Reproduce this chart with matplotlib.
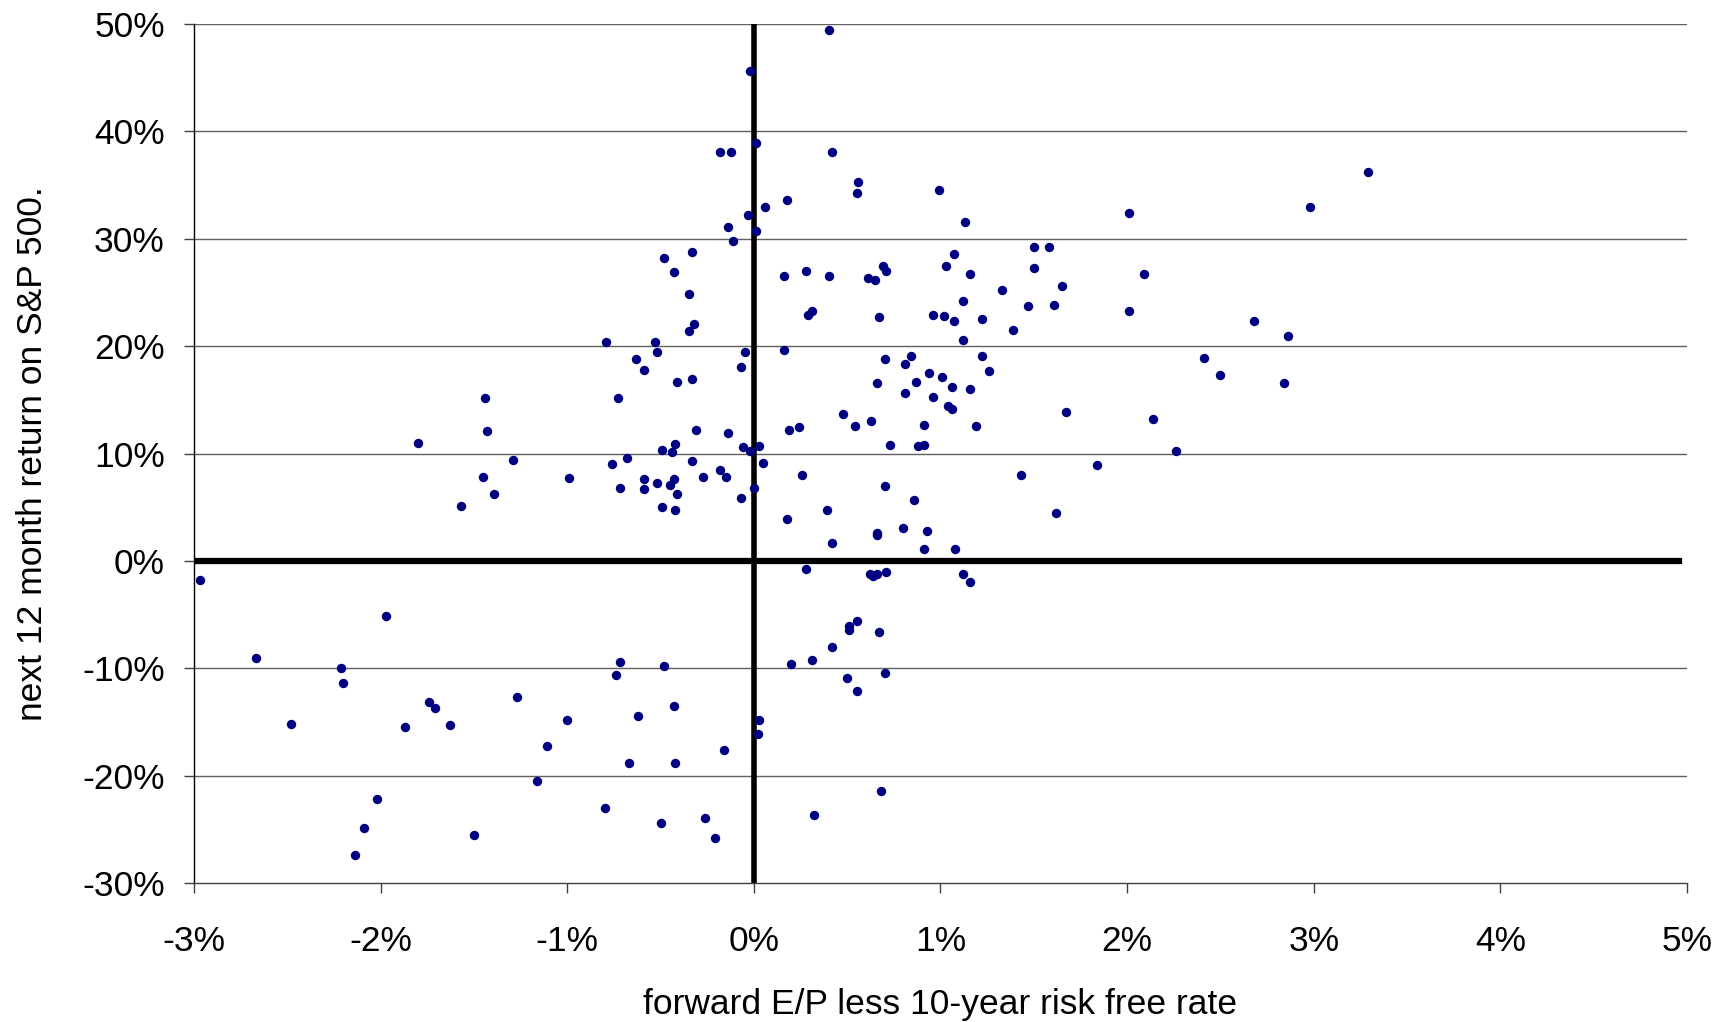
import matplotlib.pyplot as plt
from matplotlib.ticker import FuncFormatter, MultipleLocator

# forward E/P less 10-year risk free rate (%) and next 12 month return (%)
ep_spread = [
    0.405, -0.02, 0.01, -0.18, -0.12, 0.42, 3.29, 0.56, 0.55, 0.99,
    0.18, 0.06, 2.98, 2.01, -0.03, 1.13, -0.14, 0.01, -0.11, -0.33,
    1.07, -0.48, 1.50, 1.58, 0.69, 0.71, 0.28, 1.03, 1.50, -0.43,
    0.16, 0.40, 1.16, 2.09, 0.61, 0.65, 1.65, 1.33, -0.35, 1.12,
    1.61, 1.47, 0.31, 0.29, 2.01, 0.96, 1.02, 0.67, -0.32, 1.07,
    1.22, 2.68, 1.39, -0.35, 1.12, -0.79, 2.86, -0.53, -0.52, 0.16,
    -0.05, 1.22, 0.70, 0.84, 2.41, -0.63, 0.81, -0.07, -0.59, 1.26,
    2.50, 0.94, 1.01, -0.33, -0.41, 0.87, 0.66, 2.84, 1.06, 1.16,
    0.81, 0.96, -1.44, -0.73, 1.04, 1.06, 1.67, 0.48, 0.63, 2.14,
    -0.31, -1.43, 0.24, 0.19, 0.54, 1.19, 0.91, -0.14, -1.80, -0.42,
    0.73, 0.88, 0.91, -0.06, 0.03, -0.49, -0.44, -0.02, 2.26, -1.29,
    -0.68, -0.33, 0.05, -0.76, 1.84, -0.18, 1.43, 0.26, -1.45, -0.15,
    -0.27, -0.43, -0.99, -0.59, -0.45, -0.52, 0.70, -0.72, -0.59, 0.00,
    -1.39, -0.41, -0.07, 0.86, -1.57, -0.49, -0.42, 0.39, 1.62, 0.18,
    0.80, 0.93, 0.66, 0.66, 0.42, 0.91, 1.08, 0.28, 0.71, 0.62,
    0.66, 0.64, 1.12, 1.16, -2.97, -1.97, 0.55, 0.51, 0.51, 0.67,
    -2.67, -0.72, -0.48, 0.31, 0.20, -2.21, 0.42, 0.70, -0.74, 0.50,
    -2.20, 0.55, -1.27, -1.74, -1.71, -0.43, -0.62, -1.00, 0.03, -1.63,
    -2.48, -1.87, 0.02, -1.11, -0.16, -0.67, -0.42, -1.16, 0.68, -2.02,
    -0.80, -2.09, 0.32, -0.26, -0.50, -1.50, -0.21, -2.14,
]
next_return = [
    49.4, 45.6, 38.9, 38.1, 38.1, 38.1, 36.2, 35.3, 34.3, 34.5,
    33.6, 33.0, 33.0, 32.4, 32.2, 31.6, 31.1, 30.7, 29.8, 28.8,
    28.6, 28.2, 29.2, 29.2, 27.5, 27.0, 27.0, 27.5, 27.3, 26.9,
    26.5, 26.5, 26.7, 26.7, 26.3, 26.2, 25.6, 25.2, 24.9, 24.2,
    23.8, 23.7, 23.3, 22.9, 23.3, 22.9, 22.8, 22.7, 22.1, 22.3,
    22.5, 22.3, 21.5, 21.4, 20.6, 20.4, 20.9, 20.4, 19.5, 19.6,
    19.5, 19.1, 18.8, 19.1, 18.9, 18.8, 18.3, 18.1, 17.8, 17.7,
    17.3, 17.5, 17.1, 16.9, 16.7, 16.7, 16.6, 16.6, 16.2, 16.0,
    15.6, 15.3, 15.2, 15.2, 14.4, 14.1, 13.9, 13.7, 13.0, 13.2,
    12.2, 12.1, 12.5, 12.2, 12.6, 12.6, 12.7, 11.9, 11.0, 10.9,
    10.8, 10.7, 10.8, 10.6, 10.7, 10.3, 10.1, 10.2, 10.2, 9.4,
    9.6, 9.3, 9.1, 9.0, 8.9, 8.5, 8.0, 8.0, 7.8, 7.8,
    7.8, 7.6, 7.7, 7.6, 7.1, 7.3, 7.0, 6.8, 6.7, 6.8,
    6.2, 6.2, 5.9, 5.7, 5.1, 5.0, 4.7, 4.7, 4.5, 3.9,
    3.1, 2.8, 2.6, 2.4, 1.7, 1.1, 1.1, -0.8, -1.0, -1.2,
    -1.2, -1.4, -1.2, -2.0, -1.8, -5.1, -5.6, -6.1, -6.4, -6.6,
    -9.0, -9.4, -9.8, -9.2, -9.6, -10.0, -8.0, -10.4, -10.6, -10.9,
    -11.4, -12.1, -12.7, -13.1, -13.7, -13.5, -14.4, -14.8, -14.8, -15.3,
    -15.2, -15.5, -16.1, -17.2, -17.6, -18.8, -18.8, -20.5, -21.4, -22.2,
    -23.0, -24.9, -23.7, -23.9, -24.4, -25.5, -25.8, -27.4,
]

plt.rcParams['font.family'] = ['Liberation Sans', 'DejaVu Sans']

fig = plt.figure(figsize=(17.17, 10.22), dpi=100)
ax = fig.add_axes([0.113, 0.136, 0.8695, 0.8405])

ax.set_xlim(-3, 5)
ax.set_ylim(-30, 50)

# horizontal gridlines
for yv in range(-20, 51, 10):
    if yv != 0:
        ax.axhline(yv, color='#606060', lw=1.0, zorder=1)

# thick zero lines
ax.axhline(0, xmax=0.995, color='black', lw=4.5, zorder=2)
ax.axvline(0, color='black', lw=4.0, zorder=2)

ax.scatter(ep_spread, next_return, s=46, color='#000080', linewidths=0, zorder=3)

for side in ['top', 'right']:
    ax.spines[side].set_visible(False)
ax.spines['left'].set_linewidth(1.0)
ax.spines['bottom'].set_linewidth(1.0)
ax.spines['bottom'].set_color('#404040')

ax.xaxis.set_major_locator(MultipleLocator(1))
ax.yaxis.set_major_locator(MultipleLocator(10))
ax.xaxis.set_major_formatter(FuncFormatter(lambda v, p: '%d%%' % round(v)))
ax.yaxis.set_major_formatter(FuncFormatter(lambda v, p: '%d%%' % round(v)))
ax.tick_params(axis='both', direction='out', length=7, width=1, colors='#404040',
               labelcolor='black', labelsize=25.5)
ax.tick_params(axis='y', pad=14)
ax.tick_params(axis='x', pad=23)

ax.set_xlabel('forward E/P less 10-year risk free rate', fontsize=25.5, labelpad=22)
ax.set_ylabel('next 12 month return on S&P 500.', fontsize=25.5, labelpad=24)

fig.savefig('out.png', dpi=100)
